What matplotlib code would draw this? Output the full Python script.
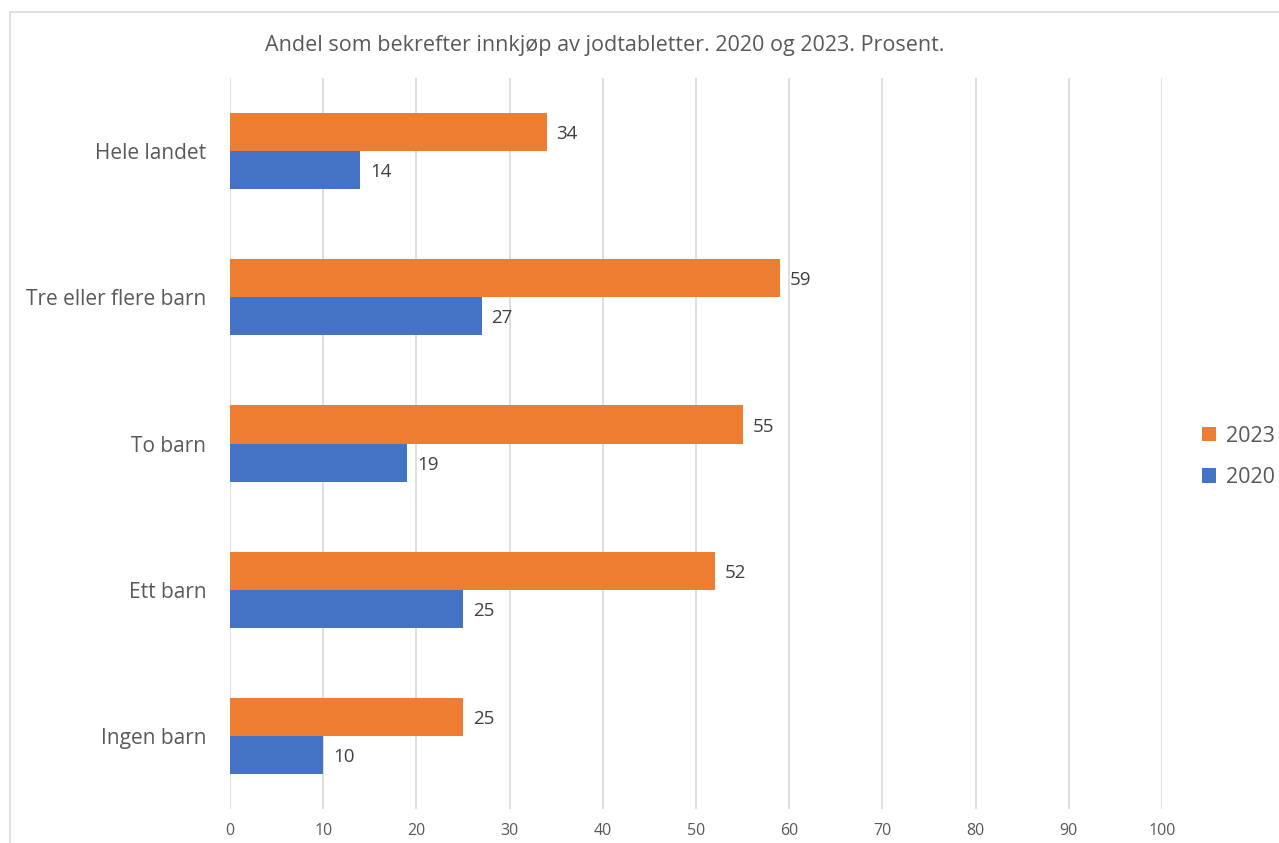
import matplotlib.pyplot as plt
from matplotlib.patches import Rectangle
import numpy as np

# --- data ---
categories = ['Hele landet', 'Tre eller flere barn', 'To barn', 'Ett barn', 'Ingen barn']
values_2023 = [34, 59, 55, 52, 25]
values_2020 = [14, 27, 19, 25, 10]

orange = '#ED7D31'
blue = '#4472C4'
grid_col = '#D9D9D9'
text_col = '#595959'

plt.rcParams['font.family'] = ['Open Sans', 'DejaVu Sans']

fig = plt.figure(figsize=(12.79, 8.43), dpi=100)
ax = fig.add_axes([230 / 1279, 34 / 843, 932 / 1279, 731 / 843])

# chart border (cut by the image edge on right/bottom)
fig.patches.append(Rectangle((10 / 1279, -0.1), 1.2, 1 - 12 / 843 + 0.1,
                             transform=fig.transFigure, fill=False,
                             edgecolor=grid_col, linewidth=1.2))

y = np.arange(len(categories))
h = 0.26
bars23 = ax.barh(y - h / 2, values_2023, height=h, color=orange, label='2023')
bars20 = ax.barh(y + h / 2, values_2020, height=h, color=blue, label='2020')

for bars in (bars23, bars20):
    for b in bars:
        ax.annotate(f'{b.get_width():.0f}', (b.get_width(), b.get_y() + b.get_height() / 2),
                    xytext=(7, -1.5), textcoords='offset points', va='center', ha='left',
                    fontsize=13.5, color='#404040')

ax.set_xlim(0, 100)
ax.set_ylim(len(categories) - 0.5, -0.5)
ax.set_xticks(np.arange(0, 101, 10))
ax.set_yticks(y)
ax.set_yticklabels(categories, fontsize=15, color=text_col)
ax.tick_params(axis='x', length=0, labelsize=11.5, labelcolor=text_col, pad=10)
ax.tick_params(axis='y', length=0, pad=17)
ax.xaxis.grid(True, color=grid_col, linewidth=1.2)
ax.set_axisbelow(True)
for s in ax.spines.values():
    s.set_visible(False)

fig.text(605 / 1279, 1 - 45 / 843, 'Andel som bekrefter innkjøp av jodtabletter. 2020 og 2023. Prosent.',
         ha='center', va='center', fontsize=15.5, color=text_col)

leg = fig.legend(handles=[bars23, bars20], labels=['2023', '2020'],
                 loc='center left', bbox_to_anchor=(1183 / 1279, 1 - 457 / 843),
                 frameon=False, fontsize=15.5, handlelength=0.65, handleheight=0.65,
                 handletextpad=0.45, labelspacing=0.95, labelcolor=text_col)

fig.savefig('out.png', dpi=100)
